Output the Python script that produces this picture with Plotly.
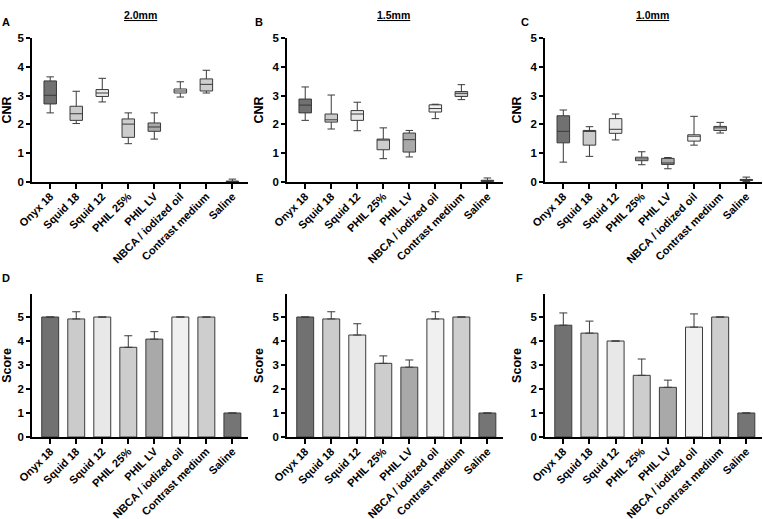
import plotly.graph_objects as go

categories = ["Onyx 18", "Squid 18", "Squid 12", "PHIL 25%", "PHIL LV",
              "NBCA / iodized oil", "Contrast medium", "Saline"]
colors = ["#717171", "#cbcbcb", "#e8e8e8", "#cdcdcd", "#a9a9a9",
          "#f0f0f0", "#cecece", "#757575"]

# CNR box plots: [lower whisker, q1, median, q3, upper whisker]
cnr_20 = [
    [2.40, 2.71, 3.01, 3.51, 3.65],
    [2.03, 2.14, 2.37, 2.63, 3.15],
    [2.78, 2.97, 3.09, 3.21, 3.60],
    [1.33, 1.55, 2.01, 2.19, 2.40],
    [1.49, 1.76, 1.91, 2.05, 2.40],
    [2.95, 3.09, 3.16, 3.23, 3.48],
    [3.09, 3.16, 3.39, 3.58, 3.88],
    [0.00, 0.01, 0.02, 0.03, 0.10],
]
cnr_15 = [
    [2.14, 2.40, 2.67, 2.88, 3.30],
    [1.84, 2.08, 2.16, 2.36, 3.02],
    [1.78, 2.14, 2.36, 2.48, 2.77],
    [0.81, 1.12, 1.47, 1.49, 1.88],
    [0.87, 1.04, 1.47, 1.70, 1.79],
    [2.20, 2.43, 2.55, 2.68, 2.70],
    [2.86, 2.97, 3.08, 3.14, 3.38],
    [0.00, 0.02, 0.04, 0.06, 0.14],
]
cnr_10 = [
    [0.69, 1.36, 1.76, 2.30, 2.50],
    [0.89, 1.28, 1.78, 1.79, 1.92],
    [1.46, 1.69, 1.83, 2.20, 2.36],
    [0.60, 0.74, 0.80, 0.86, 1.05],
    [0.46, 0.61, 0.66, 0.82, 0.85],
    [1.28, 1.42, 1.59, 1.64, 2.28],
    [1.70, 1.79, 1.88, 1.93, 2.07],
    [0.02, 0.05, 0.07, 0.09, 0.17],
]

# Scores: mean and upper SD (None = no error bar)
score_20 = [5.0, 4.92, 5.0, 3.74, 4.08, 5.0, 5.0, 1.0]
score_20_err = [None, 0.30, None, 0.48, 0.31, None, None, None]
score_15 = [5.0, 4.92, 4.25, 3.07, 2.91, 4.92, 5.0, 1.0]
score_15_err = [None, 0.30, 0.47, 0.31, 0.30, 0.30, None, None]
score_10 = [4.66, 4.33, 4.0, 2.57, 2.07, 4.58, 5.0, 1.0]
score_10_err = [0.51, 0.50, None, 0.68, 0.30, 0.55, None, None]

panel_titles = ["2.0mm", "1.5mm", "1.0mm"]
panel_letters = ["A", "B", "C", "D", "E", "F"]

W, H = 763, 519
FONT = "Arial, Liberation Sans, sans-serif"
LINE = "#3a3a3a"

def px(x):
    return x / W

def py(y):
    return 1 - y / H

x_doms = [(px(32), px(248)), (px(287), px(503)), (px(545), px(762))]
top_dom = (py(182), py(38))
bot_dom = (py(437), py(294))

fig = go.Figure()

box_sets = [cnr_20, cnr_15, cnr_10]
for p, data in enumerate(box_sets):
    xa = "x" if p == 0 else f"x{p+1}"
    ya = "y" if p == 0 else f"y{p+1}"
    for i, cat in enumerate(categories):
        lo, q1, med, q3, hi = data[i]
        fig.add_trace(go.Box(
            x=[i], q1=[q1], median=[med], q3=[q3],
            lowerfence=[lo], upperfence=[hi],
            fillcolor=colors[i], line=dict(color=LINE, width=1),
            width=0.48, whiskerwidth=0.6, boxpoints=False,
            xaxis=xa, yaxis=ya, showlegend=False, hoverinfo="skip"))

bar_sets = [(score_20, score_20_err), (score_15, score_15_err), (score_10, score_10_err)]
for p, (vals, errs) in enumerate(bar_sets):
    n = p + 4
    fig.add_trace(go.Bar(
        x=list(range(len(categories))), y=vals,
        marker=dict(color=colors, line=dict(color=LINE, width=1)),
        width=0.65,
        error_y=dict(type="data", array=errs,
                     arrayminus=[None if e is None else 0 for e in errs],
                     symmetric=False, color=LINE, thickness=1, width=4),
        xaxis=f"x{n}", yaxis=f"y{n}", showlegend=False, hoverinfo="skip"))

layout = dict(
    width=W, height=H, margin=dict(l=0, r=0, t=0, b=0, autoexpand=False),
    plot_bgcolor="white", paper_bgcolor="white",
    font=dict(family=FONT, color="black"),
    boxmode="overlay", barmode="overlay",
    annotations=[], showlegend=False,
)

for k in range(6):
    n = k + 1
    suffix = "" if n == 1 else str(n)
    col = k % 3
    top = k < 3
    layout["xaxis" + suffix] = dict(
        domain=x_doms[col], anchor="y" + suffix, automargin=False,
        range=[-0.7, 7.6],
        tickmode="array", tickvals=list(range(len(categories))),
        ticktext=[f"<b>{c}</b>" for c in categories],
        tickangle=-45, tickfont=dict(size=11, family=FONT, color="black"),
        ticklabelstandoff=-3,
        showline=True, linecolor="black", linewidth=1.5,
        ticks="outside", ticklen=5, tickwidth=1.5, tickcolor="black",
        showgrid=False, zeroline=False, fixedrange=True,
    )
    layout["yaxis" + suffix] = dict(
        domain=top_dom if top else bot_dom, anchor="x" + suffix, automargin=False,
        range=[0, 5] if top else [0, 5.96],
        tickmode="array", tickvals=[0, 1, 2, 3, 4, 5],
        ticktext=[f"<b>{v}</b>" for v in range(6)],
        tickfont=dict(size=11.5, family=FONT, color="black"),
        showline=True, linecolor="black", linewidth=1.5,
        ticks="outside", ticklen=4, tickwidth=1.5, tickcolor="black",
        showgrid=False, zeroline=False, fixedrange=True,
        title=dict(text="<b>CNR</b>" if top else "<b>Score</b>",
                   font=dict(size=12.5, family=FONT, color="black"), standoff=6),
    )

ann = []
title_x = [140, 393, 652]
for i, t in enumerate(panel_titles):
    ann.append(dict(text=f"<b><u>{t}</u></b>", x=px(title_x[i]), y=py(15),
                    xref="paper", yref="paper", showarrow=False,
                    font=dict(size=10.5, family=FONT, color="black"),
                    xanchor="center", yanchor="middle"))
letter_pos = [(6, 22), (259, 22), (525, 22), (6, 278), (259, 278), (519, 278)]
for L, (lx, ly) in zip(panel_letters, letter_pos):
    ann.append(dict(text=f"<b>{L}</b>", x=px(lx), y=py(ly),
                    xref="paper", yref="paper", showarrow=False,
                    font=dict(size=11, family=FONT, color="black"),
                    xanchor="center", yanchor="middle"))
layout["annotations"] = ann

fig.update_layout(**layout)
fig.write_html("out.html",
               config={"displayModeBar": False},
               post_script="document.body.style.margin='0px';"
                           "document.body.style.overflow='hidden';")
